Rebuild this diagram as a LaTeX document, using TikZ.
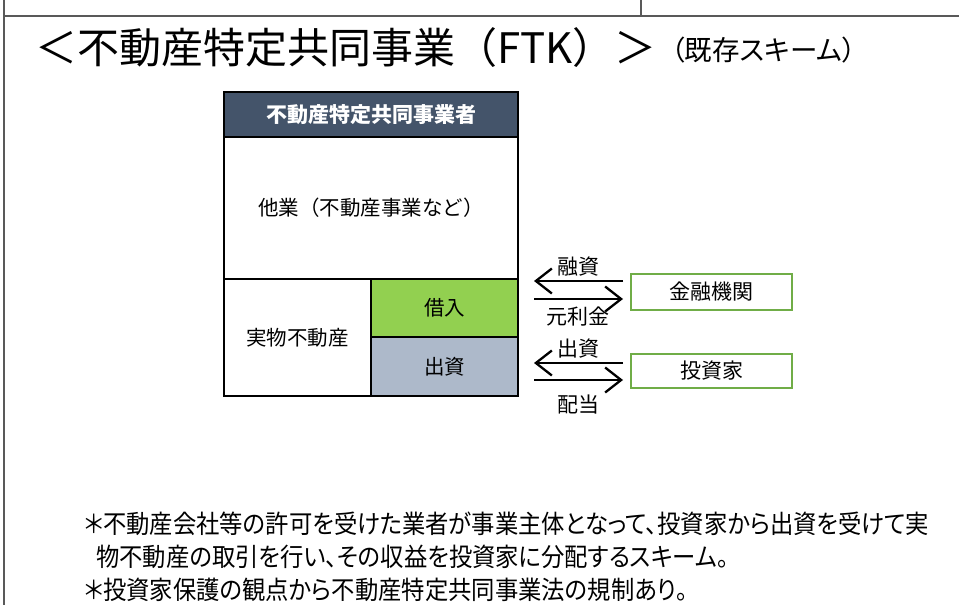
\documentclass[tikz,border=0pt]{standalone}
\usepackage{fontspec}
\newfontfamily\jp{Noto Sans CJK JP}
\newfontfamily\jpp[RawFeature=+palt]{Noto Sans CJK JP}
\usetikzlibrary{arrows.meta}
\definecolor{hdrblue}{HTML}{44546A}
\definecolor{lgreen}{HTML}{92D050}
\definecolor{lgray}{HTML}{ADB9CA}
\definecolor{bgreen}{HTML}{70AD47}
\definecolor{frame}{HTML}{595959}
\tikzset{
  cell/.style={draw=black, line width=1.3pt, inner sep=0pt, align=center, font=\jp\fontsize{20.5}{24}\selectfont},
  party/.style={draw=bgreen, line width=1.3pt, inner sep=0pt, fill=white, font=\jp\fontsize{21}{24}\selectfont},
  flow/.style={line width=2.3pt, -{Straight Barb[length=16pt,width=25pt,line width=2.3pt]}},
  lbl/.style={inner sep=0pt, font=\jp\fontsize{21}{24}\selectfont},
  note/.style={inner sep=0pt, anchor=west, font=\jpp\fontsize{25.5}{28}\selectfont}
}
\begin{document}
\begin{tikzpicture}[x=1pt,y=-1pt]
\useasboundingbox (0,0) rectangle (959,605);
\fill[white] (0,0) rectangle (959,605);
% frame lines
\draw[frame, line width=1.6pt] (4,0) -- (4,605);
\draw[frame, line width=1.6pt] (4,16) -- (959,16);
\draw[frame, line width=1.6pt] (641,0) -- (641,16);
% title
\node[inner sep=0pt, anchor=west, font=\jp\fontsize{42}{46}\selectfont] (title) at (35,48) {＜不動産特定共同事業（FTK）＞};
\node[inner sep=0pt, anchor=west, font=\jpp\fontsize{27.5}{30}\selectfont] (sub) at (671,50) {（既存スキーム）};
% company block
\node[cell, fill=hdrblue, text=white, minimum width=294pt, minimum height=45pt, font=\jp\bfseries\fontsize{21}{24}\selectfont] (hdr) at (371,114.5) {不動産特定共同事業者};
\node[cell, fill=white, minimum width=294pt, minimum height=142pt] (other) at (371,208) {他業（不動産事業など）};
\node[cell, fill=white, minimum width=147pt, minimum height=117pt] (real) at (297.5,337.5) {実物不動産};
\node[cell, fill=lgreen, minimum width=147pt, minimum height=58pt] (borrow) at (444.5,308) {借入};
\node[cell, fill=lgray, minimum width=147pt, minimum height=59pt] (equity) at (444.5,366.5) {出資};
% counterparties
\node[party, minimum width=161pt, minimum height=36pt] (bank) at (711.5,292) {金融機関};
\node[party, minimum width=161pt, minimum height=34pt] (inv) at (711.5,371) {投資家};
% arrow end points
\coordinate (b1r) at (623,281);
\coordinate (b1l) at (534,281);
\coordinate (b2l) at (534,299);
\coordinate (b2r) at (623,299);
\coordinate (i1r) at (623,363);
\coordinate (i1l) at (534,363);
\coordinate (i2l) at (534,380);
\coordinate (i2r) at (623,380);
\draw[flow] (b1r) -- (b1l);
\draw[flow] (b2l) -- (b2r);
\draw[flow] (i1r) -- (i1l);
\draw[flow] (i2l) -- (i2r);
\node[lbl] (l1) at (578,267) {融資};
\node[lbl] (l2) at (578,317) {元利金};
\node[lbl] (l3) at (578,349) {出資};
\node[lbl] (l4) at (578,405) {配当};
% notes
\node[note] (n1) at (84,524) {\scalebox{0.915}[1]{＊不動産会社等の許可を受けた業者が事業主体となって、投資家から出資を受けて実}};
\node[note] (n2) at (96,557) {\scalebox{0.915}[1]{物不動産の取引を行い、その収益を投資家に分配するスキーム。}};
\node[note] (n3) at (84,590) {\scalebox{0.915}[1]{＊投資家保護の観点から不動産特定共同事業法の規制あり。}};
\end{tikzpicture}
\end{document}
